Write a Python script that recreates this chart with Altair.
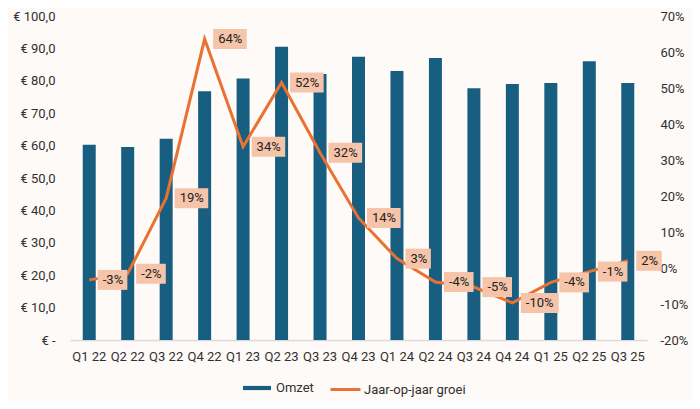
import altair as alt
import pandas as pd

quarters = ["Q1 22", "Q2 22", "Q3 22", "Q4 22", "Q1 23", "Q2 23", "Q3 23", "Q4 23",
            "Q1 24", "Q2 24", "Q3 24", "Q4 24", "Q1 25", "Q2 25", "Q3 25"]
omzet = [60.3, 59.6, 62.1, 76.8, 80.7, 90.5, 82.1, 87.4, 83.0, 87.0, 77.7, 79.0, 79.3, 86.0, 79.3]
groei = [-3.3, -1.6, 19.4, 63.6, 33.7, 51.5, 32.0, 13.9, 2.6, -3.9, -5.3, -9.7, -4.0, -1.0, 2.0]
labels = ["-3%", "-2%", "19%", "64%", "34%", "52%", "32%", "14%", "3%", "-4%", "-5%", "-10%", "-4%", "-1%", "2%"]

df = pd.DataFrame({
    "q": quarters,
    "omzet": omzet,
    "groei": [g / 100 for g in groei],
    "label": labels,
})

FONT = "Roboto"
TXT = "#303030"
BLUE = "#175E80"
ORANGE = "#E97132"
BOX = "#F6C5A9"

x = alt.X("q:N", sort=quarters, title=None,
          scale=alt.Scale(paddingInner=0, paddingOuter=0),
          axis=alt.Axis(labelAngle=0, ticks=False, domain=True, domainColor="#D9D9D9",
                        domainWidth=1.5, labelPadding=10, labelFontSize=13,
                        labelColor=TXT, labelFont=FONT))

base = alt.Chart(df)

bars = base.mark_bar(size=13).encode(
    x=x,
    y=alt.Y("omzet:Q", title=None,
            scale=alt.Scale(domain=[0, 100], nice=False),
            axis=alt.Axis(orient="left", values=list(range(0, 101, 10)), grid=False,
                          domain=False, ticks=False, labelPadding=15,
                          labelFontSize=13, labelColor=TXT, labelFont=FONT,
                          labelExpr="datum.value == 0 ? '€ -\u00a0\u00a0' : '€ ' + replace(format(datum.value, '.1f'), '.', ',')")),
    color=alt.Color("s1:N", scale=alt.Scale(domain=["Omzet"], range=[BLUE]),
                    legend=alt.Legend(orient="none", legendX=172, legendY=357, title=None,
                                      symbolType="M-1,-0.15H1V0.15H-1Z", symbolSize=784,
                                      labelFontSize=13, labelColor=TXT, labelFont=FONT,
                                      labelOffset=4, padding=0)),
).transform_calculate(s1="'Omzet'")

yg = alt.Y("groei:Q", title=None,
           scale=alt.Scale(domain=[-0.2, 0.7], nice=False),
           axis=alt.Axis(orient="right", values=[round(v / 10, 1) for v in range(-2, 8)],
                         grid=False, domain=False, ticks=False, labelPadding=13,
                         labelAlign="left", labelFontSize=13, labelColor=TXT, labelFont=FONT,
                         labelExpr="(datum.value < 0 ? '-' : '') + format(abs(datum.value), '.0%')"))

line = base.mark_line(strokeWidth=3).encode(
    x=x,
    y=yg,
    stroke=alt.Stroke("s2:N", scale=alt.Scale(domain=["Jaar-op-jaar groei"], range=[ORANGE]),
                      legend=alt.Legend(orient="none", legendX=259, legendY=357, title=None,
                                        symbolType="stroke",
                                        symbolSize=900, symbolStrokeWidth=3,
                                        labelFontSize=13, labelColor=TXT, labelFont=FONT,
                                        labelOffset=2, padding=0)),
).transform_calculate(s2="'Jaar-op-jaar groei'")

boxes = base.mark_point(filled=True, fill=BOX, opacity=1, size=100, strokeWidth=0).encode(
    x=x,
    y=yg,
    shape=alt.Shape("path:N", scale=None, legend=None),
).transform_calculate(
    w="(8.2 * length(datum.label) - (indexof(datum.label, '-') >= 0 ? 4 : 0) + 9) / 5",
).transform_calculate(
    path="'M1.7,-2H' + (1.7 + datum.w) + 'V2H1.7Z'"
)

texts = base.mark_text(align="left", baseline="middle", dx=13.5, fontSize=13,
                       font=FONT, color="#222222").encode(
    x=x,
    y=yg,
    text="label:N",
)

growth = alt.layer(line, boxes, texts)

chart = alt.layer(bars, growth).resolve_scale(y="independent").properties(
    width=577, height=324,
    autosize=alt.AutoSizeParams(type="none"),
    padding={"left": 62, "top": 8, "right": 45, "bottom": 61},
    background="#FEFAF7",
).configure_view(stroke=None)

chart.save("out.html", embed_options={"renderer": "svg", "actions": False})
